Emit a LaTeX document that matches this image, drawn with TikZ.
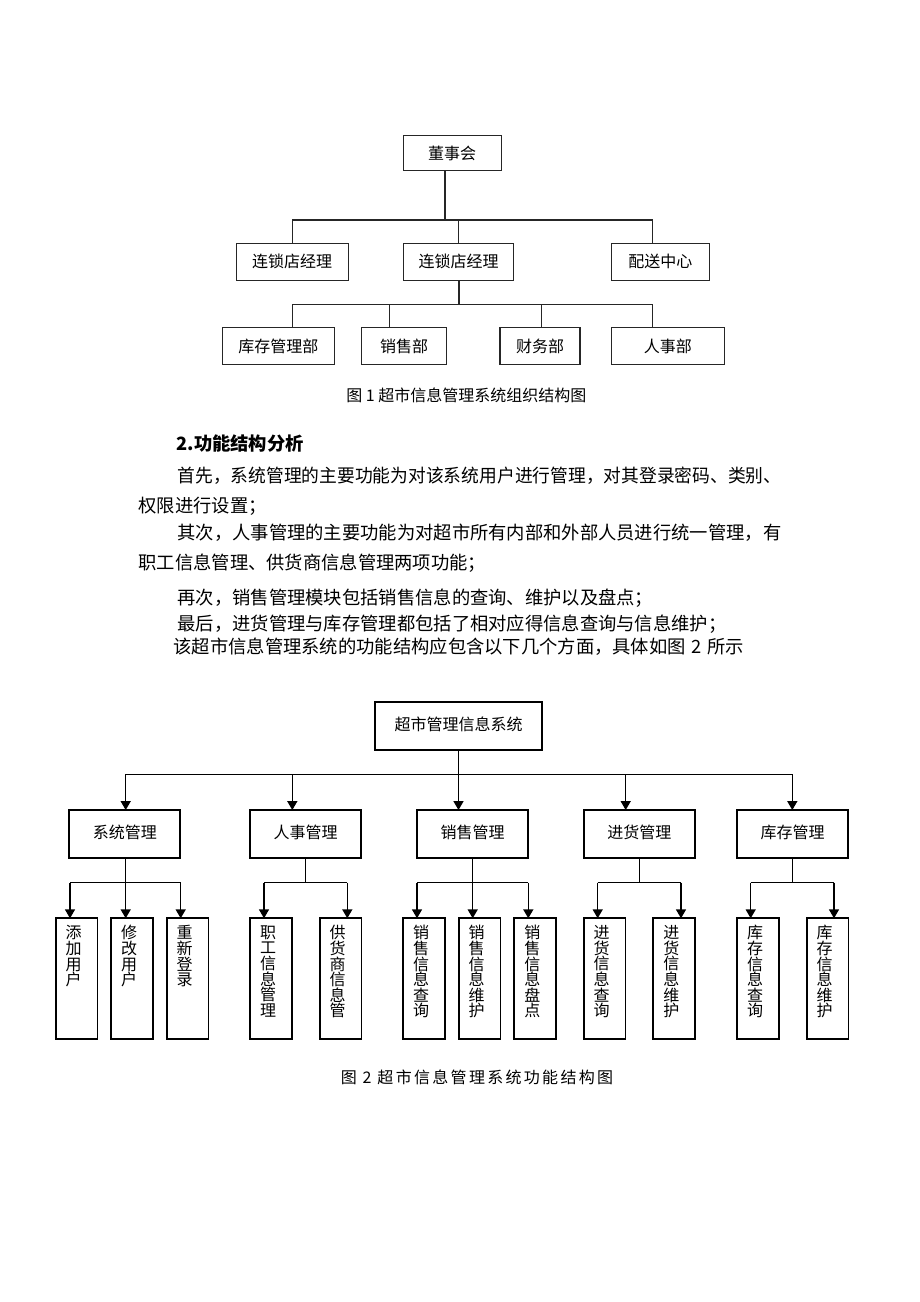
\documentclass[tikz,border=0pt]{standalone}
\usepackage{fontspec}
\usepackage{graphicx}
\newfontfamily\cjk{Noto Sans CJK SC}
\newfontfamily\cjksp{Noto Sans CJK SC}[LetterSpace=14.4]
\usetikzlibrary{arrows.meta}
\begin{document}
\begin{tikzpicture}[x=1pt,y=-1pt,
  every node/.style={inner sep=0pt, outer sep=0pt},
  boxa/.style={draw=black!85, line width=1.1pt, font=\cjk\fontsize{16}{16}\selectfont},
  linka/.style={draw=black!85, line width=1.1pt},
  boxb/.style={draw=black, line width=1.8pt, font=\cjk\fontsize{16}{16}\selectfont},
  linkb/.style={draw=black, line width=1.5pt},
  arr/.style={linkb, -{Triangle[width=10pt,length=9pt]}},
  body/.style={anchor=west, font=\cjk\fontsize{18.3}{18.3}\selectfont},
  leaf/.style={boxb, minimum width=41.7pt, minimum height=121pt},
  leaftext/.style={anchor=north, align=center, font=\cjk\fontsize{16}{15.6}\selectfont},
]
\path[fill=white] (0,0) rectangle (920,1302);

% ---------- Figure 1 ----------
\node[boxa, minimum width=97.7pt, minimum height=35pt] (dsh) at (452.2,153.2) {董事会};
\node[boxa, minimum width=112.3pt, minimum height=36.7pt] (m1) at (292.2,261.7) {连锁店经理};
\node[boxa, minimum width=110.4pt, minimum height=36.7pt] (m2) at (458.5,261.7) {连锁店经理};
\node[boxa, minimum width=97.3pt, minimum height=36.7pt] (ps) at (660.4,261.7) {配送中心};
\node[boxa, minimum width=112pt, minimum height=36.6pt] (b1) at (278.3,346) {库存管理部};
\node[boxa, minimum width=85pt, minimum height=36.6pt] (b2) at (404.2,346) {销售部};
\node[boxa, minimum width=80pt, minimum height=36.6pt] (b3) at (540,346) {财务部};
\node[boxa, minimum width=112.3pt, minimum height=36.6pt] (b4) at (667.9,346) {人事部};

\coordinate (ja) at (445,220);
\coordinate (jaL) at (292.3,220);
\coordinate (jaR) at (652.7,220);
\draw[linka] (dsh.south -| ja) -- (ja);
\draw[linka] (jaL) -- (jaR);
\draw[linka] (jaL) -- (jaL |- m1.north);
\draw[linka] (m2.north) -- (m2.north |- ja);
\draw[linka] (jaR) -- (jaR |- ps.north);

\coordinate (jb) at (459,304.3);
\coordinate (jbL) at (292.3,304.3);
\coordinate (jb2) at (389.3,304.3);
\coordinate (jb3) at (541.7,304.3);
\coordinate (jbR) at (652.7,304.3);
\draw[linka] (m2.south -| jb) -- (jb);
\draw[linka] (jbL) -- (jbR);
\draw[linka] (jbL) -- (jbL |- b1.north);
\draw[linka] (jb2) -- (jb2 |- b2.north);
\draw[linka] (jb3) -- (jb3 |- b3.north);
\draw[linka] (jbR) -- (jbR |- b4.north);

\node[font=\cjk\fontsize{16}{16}\selectfont] (cap1) at (466.3,395) {图 1 超市信息管理系统组织结构图};

% ---------- Text ----------
\node[body] (h2) at (176.5,444) {\bfseries 2.功能结构分析};
\node[body] (p1) at (177.5,475.7) {\resizebox{604pt}{\height}{首先，系统管理的主要功能为对该系统用户进行管理，对其登录密码、类别、}};
\node[body] (p2) at (138.5,506.7) {权限进行设置；};
\node[body] (p3) at (177.5,532.7) {其次，人事管理的主要功能为对超市所有内部和外部人员进行统一管理，有};
\node[body] (p4) at (138.5,563.3) {职工信息管理、供货商信息管理两项功能；};
\node[body] (p5) at (177.5,598.3) {再次，销售管理模块包括销售信息的查询、维护以及盘点；};
\node[body] (p6) at (177.5,624.3) {最后，进货管理与库存管理都包括了相对应得信息查询与信息维护；};
\node[body] (p7) at (173.5,646.7) {该超市信息管理系统的功能结构应包含以下几个方面，具体如图\hspace{0.3em}2\hspace{0.3em}所示};

% ---------- Figure 2 ----------
\node[boxb, minimum width=167pt, minimum height=48pt] (root) at (458.5,726) {\raisebox{4pt}{超市管理信息系统}};
\node[boxb, minimum width=111pt, minimum height=48.3pt] (s1) at (124.8,834.2) {\raisebox{4pt}{系统管理}};
\node[boxb, minimum width=111pt, minimum height=48.3pt] (s2) at (305.5,834.2) {\raisebox{4pt}{人事管理}};
\node[boxb, minimum width=111pt, minimum height=48.3pt] (s3) at (472.5,834.2) {\raisebox{4pt}{销售管理}};
\node[boxb, minimum width=111pt, minimum height=48.3pt] (s4) at (639.3,834.2) {\raisebox{4pt}{进货管理}};
\node[boxb, minimum width=111pt, minimum height=48.3pt] (s5) at (792.7,834.2) {\raisebox{4pt}{库存管理}};

\coordinate (raL) at (125.7,774.3);
\coordinate (ra2) at (292.3,774.3);
\coordinate (ra4) at (625.7,774.3);
\coordinate (raR) at (792.3,774.3);
\draw[arr] (root.south) -- (root.south |- s3.north);
\draw[linkb] (raL) -- (raR);
\draw[arr] (raL) -- (raL |- s1.north);
\draw[arr] (ra2) -- (ra2 |- s2.north);
\draw[arr] (ra4) -- (ra4 |- s4.north);
\draw[arr] (raR) -- (raR |- s5.north);

\foreach \i/\l/\a/\t in {
  1/55.7/70/{添\\加\\用\\户},
  2/111/125.7/{修\\改\\用\\户},
  3/166.7/180.7/{重\\新\\登\\录},
  4/250/264/{职\\工\\信\\息\\管\\理},
  5/319.7/347.3/{供\\货\\商\\信\\息\\管},
  6/403/417/{销\\售\\信\\息\\查\\询},
  7/458.7/472.7/{销\\售\\信\\息\\维\\护},
  8/514.3/528.3/{销\\售\\信\\息\\盘\\点},
  9/583.7/597.7/{进\\货\\信\\息\\查\\询},
  10/653.3/681/{进\\货\\信\\息\\维\\护},
  11/737/750.7/{库\\存\\信\\息\\查\\询},
  12/806.7/834/{库\\存\\信\\息\\维\\护}} {
  \node[leaf] (leaf\i) at (\l+20.85,978.8) {};
  \node[leaftext] (leaft\i) at (\l+18,925.5) {\t};
  \coordinate (t\i) at (\a,882.7);
  \draw[arr] (t\i) -- (t\i |- leaf\i.north);
}

\draw[linkb] (t2 |- s1.south) -- (t2);
\draw[linkb] (s2.south) -- (s2.south |- t4);
\draw[linkb] (t7 |- s3.south) -- (t7);
\draw[linkb] (s4.south) -- (s4.south |- t9);
\draw[linkb] (s5.south) -- (s5.south |- t11);
\draw[linkb] (t1) -- (t3);
\draw[linkb] (t4) -- (t5);
\draw[linkb] (t6) -- (t8);
\draw[linkb] (t9) -- (t10);
\draw[linkb] (t11) -- (t12);

\node[font=\cjksp\fontsize{16}{16}\selectfont] (cap2) at (477,1077) {图 2 超市信息管理系统功能结构图};
\end{tikzpicture}
\end{document}
